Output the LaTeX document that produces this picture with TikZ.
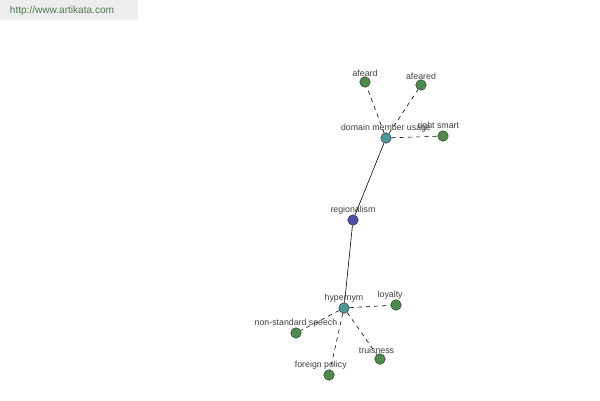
\documentclass[tikz,border=0pt]{standalone}
\usepackage{fontspec}
\setmainfont{Liberation Sans}
\tikzset{
  every label/.style={font=\fontsize{7.5}{8}\selectfont, text=black!75, yshift=-3.5pt},
  word/.style={circle, draw=black!80, fill=#1, minimum size=9pt, inner sep=0pt},
  rel/.style={draw=black, line width=0.5pt},
  syn/.style={rel, dash pattern=on 3.5pt off 3.5pt},
}
\definecolor{leaf}{HTML}{4A8C48}
\definecolor{hub}{HTML}{4A9A98}
\definecolor{root}{HTML}{4E50A8}
\definecolor{banner}{HTML}{EDEDED}
\definecolor{sitetext}{HTML}{4F7A4F}
\begin{document}
\begin{tikzpicture}[x=0.03cm, y=-0.03cm]
\useasboundingbox (0,0) rectangle (600,400);
% banner
\fill[banner] (0,0) rectangle (138,20);
\node[text=sitetext, font=\fontsize{8.6}{10}\selectfont] (site) at (62,11) {http://www.artikata.com};
% centre
\node[word=root, label=above:regionalism] (regionalism) at (353,220) {};
\node[word=hub, label=above:domain member usage] (domain) at (386,138) {};
\node[word=hub, label=above:hypernym] (hypernym) at (344,308) {};
% leaves
\node[word=leaf, label=above:afeard] (afeard) at (365,82) {};
\node[word=leaf, label=above:afeared] (afeared) at (421,85) {};
\node[word=leaf, label={[xshift=-4pt]above:right smart}] (smart) at (443,136) {};
\node[word=leaf, label={[xshift=-5pt]above:loyalty}] (loyalty) at (396,305) {};
\node[word=leaf, label=above:non-standard speech] (speech) at (296,333) {};
\node[word=leaf, label={[xshift=-3pt]above:truisness}] (truisness) at (380,359) {};
\node[word=leaf, label={[xshift=-7pt]above:foreign policy}] (policy) at (329,375) {};
% links
\draw[rel] (domain) -- (regionalism);
\draw[rel] (regionalism) -- (hypernym);
\draw[syn] (domain) -- (afeard);
\draw[syn] (domain) -- (afeared);
\draw[syn] (domain) -- (smart);
\draw[syn] (hypernym) -- (loyalty);
\draw[syn] (hypernym) -- (speech);
\draw[syn] (hypernym) -- (truisness);
\draw[syn] (hypernym) -- (policy);
\end{tikzpicture}
\end{document}
